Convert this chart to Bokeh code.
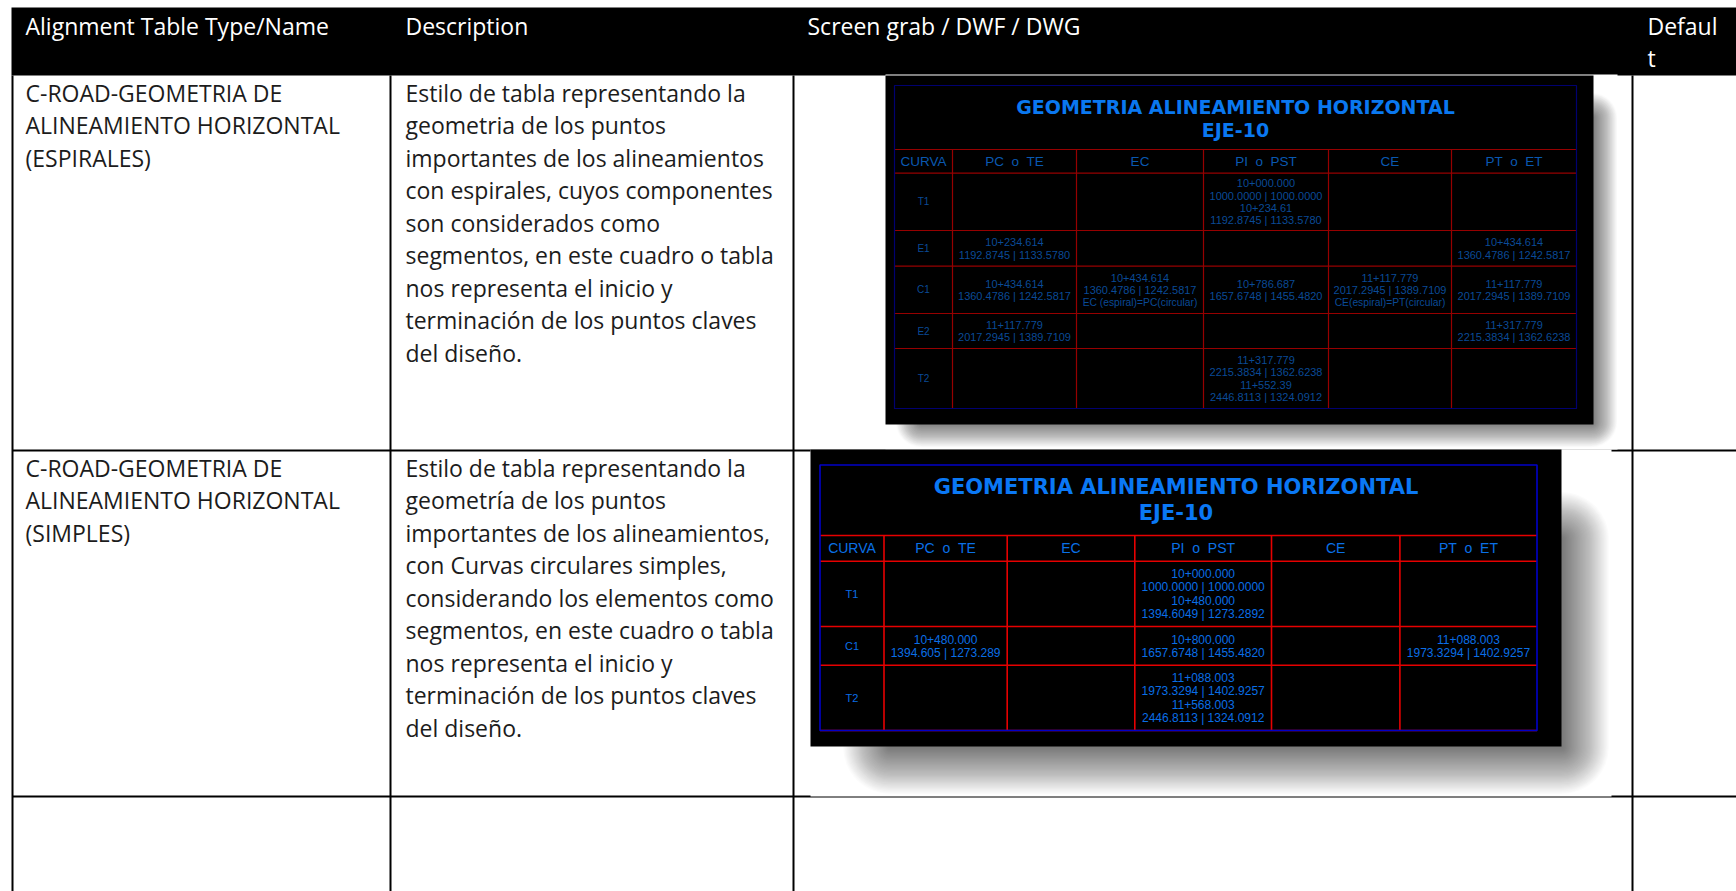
from bokeh.plotting import figure
from bokeh.models import Range1d
from bokeh.core.properties import value
from bokeh.embed import file_html
from bokeh.resources import INLINE

# ---- table content ----
headers = ["Alignment Table Type/Name", "Description", "Screen grab / DWF / DWG", "Defaul", "t"]
name_1 = ["C-ROAD-GEOMETRIA DE", "ALINEAMIENTO HORIZONTAL", "(ESPIRALES)"]
name_2 = ["C-ROAD-GEOMETRIA DE", "ALINEAMIENTO HORIZONTAL", "(SIMPLES)"]
desc_1 = ["Estilo de tabla representando la", "geometria de los puntos", "importantes de los alineamientos",
          "con espirales, cuyos componentes", "son considerados como", "segmentos, en este cuadro o tabla",
          "nos representa el inicio y", "terminación de los puntos claves", "del diseño."]
desc_2 = ["Estilo de tabla representando la", "geometría de los puntos", "importantes de los alineamientos,",
          "con Curvas circulares simples,", "considerando los elementos como", "segmentos, en este cuadro o tabla",
          "nos representa el inicio y", "terminación de los puntos claves", "del diseño."]

title_lines = ["GEOMETRIA ALINEAMIENTO HORIZONTAL", "EJE-10"]
sheet_cols = ["CURVA", "PC\u00a0\u00a0o\u00a0\u00a0TE", "EC", "PI\u00a0\u00a0o\u00a0\u00a0PST", "CE", "PT\u00a0\u00a0o\u00a0\u00a0ET"]

s1_curva = ["T1", "E1", "C1", "E2", "T2"]
s1_pc = [[], ["10+234.614", "1192.8745 | 1133.5780"], ["10+434.614", "1360.4786 | 1242.5817"],
         ["11+117.779", "2017.2945 | 1389.7109"], []]
s1_ec = [[], [], ["10+434.614", "1360.4786 | 1242.5817", "EC (espiral)=PC(circular)"], [], []]
s1_pi = [["10+000.000", "1000.0000 | 1000.0000", "10+234.61", "1192.8745 | 1133.5780"], [],
         ["10+786.687", "1657.6748 | 1455.4820"], [],
         ["11+317.779", "2215.3834 | 1362.6238", "11+552.39", "2446.8113 | 1324.0912"]]
s1_ce = [[], [], ["11+117.779", "2017.2945 | 1389.7109", "CE(espiral)=PT(circular)"], [], []]
s1_pt = [[], ["10+434.614", "1360.4786 | 1242.5817"], ["11+117.779", "2017.2945 | 1389.7109"],
         ["11+317.779", "2215.3834 | 1362.6238"], []]

s2_curva = ["T1", "C1", "T2"]
s2_pc = [[], ["10+480.000", "1394.605 | 1273.289"], []]
s2_ec = [[], [], []]
s2_pi = [["10+000.000", "1000.0000 | 1000.0000", "10+480.000", "1394.6049 | 1273.2892"],
         ["10+800.000", "1657.6748 | 1455.4820"],
         ["11+088.003", "1973.3294 | 1402.9257", "11+568.003", "2446.8113 | 1324.0912"]]
s2_ce = [[], [], []]
s2_pt = [[], ["11+088.003", "1973.3294 | 1402.9257"], []]

# ---- page-pixel canvas ----
W, H = 1736, 891
p = figure(width=W, height=H, x_range=Range1d(0, W), y_range=Range1d(H, 0),
           output_backend="svg", toolbar_location=None, min_border=0,
           x_axis_type=None, y_axis_type=None, background_fill_color="white",
           border_fill_color="white", outline_line_color=None)
p.xgrid.visible = False
p.ygrid.visible = False

BODY = value("Open Sans")
DOC_SIZE = "23px"
LEAD = 32.5


def rect(l, r, t, b, color="black", alpha=1.0, radius=0):
    p.quad(left=[l], right=[r], top=[t], bottom=[b], fill_color=color, fill_alpha=alpha,
           line_color=None, border_radius=int(radius))


def lines(x, y0, items, color="#1c1c1c"):
    p.text(x=[x] * len(items), y=[y0 + LEAD * i for i in range(len(items))], text=items,
           text_font=BODY, text_font_size=DOC_SIZE, text_color=color,
           text_baseline="alphabetic", text_align="left")


# Outer table rules
V = [12, 390, 793, 1632]
HZ = [450, 796]
p.segment(x0=V, x1=V, y0=[75] * 4, y1=[900] * 4, line_color="black", line_width=2)
p.segment(x0=[12] * 2, x1=[1740] * 2, y0=HZ, y1=HZ, line_color="black", line_width=2)

# Header band
rect(11, 1740, 7, 75)


def shadow(l, r, t, b, spread, strength, layers=40):
    a = 1 - (1 - strength) ** (1 / layers)
    for i in range(layers):
        d = spread * (1 - 2 * (i + 0.5) / layers)
        rect(l - d, r + d, t - d, b + d, "black", a, radius=max(0.0, d + spread))


def sheet(img, frame, xs, ys, rows, cols, cell_h, st):
    il, ir, it, ib = img
    fl, fr, ft, fb = frame
    rect(il, ir, it, ib)
    # title
    cx = (fl + fr) / 2 + st["title_dx"]
    p.text(x=[cx, cx], y=st["title_y"], text=title_lines, text_font=value("DejaVu Sans"),
           text_font_style="bold", text_font_size=st["title_size"], text_color=st["title_color"],
           text_align="center", text_baseline="middle")
    # grid
    p.segment(x0=[fl] * len(ys), x1=[fr] * len(ys), y0=ys, y1=ys, line_color=st["red"], line_width=st["lw"])
    vx = xs[1:-1]
    p.segment(x0=vx, x1=vx, y0=[ys[0]] * len(vx), y1=[fb] * len(vx), line_color=st["red"], line_width=st["lw"])
    p.quad(left=[fl], right=[fr], top=[ft], bottom=[fb], fill_color=None, line_color=st["blue"], line_width=st["lw"])
    # column captions
    mid = [(a + b) / 2 for a, b in zip(xs[:-1], xs[1:])]
    p.text(x=mid, y=[(ys[0] + ys[1]) / 2] * 6, text=sheet_cols, text_font=value("Liberation Sans"),
           text_font_size=st["head_size"], text_color=st["head_color"],
           text_align="center", text_baseline="middle")
    # cells
    for c, col in enumerate(cols):
        for r, cell in enumerate(col):
            yc = (ys[r + 1] + ys[r + 2]) / 2
            n = len(cell)
            for k, t in enumerate(cell):
                size = "10.3px" if "espiral" in t else st["cell_size"]
                p.text(x=[mid[c + 1]], y=[yc + (k - (n - 1) / 2) * cell_h], text=[t],
                       text_font=value("Liberation Sans"), text_font_size=size,
                       text_color=st["cell_color"], text_align="center", text_baseline="middle")
    ycs = [(ys[r + 1] + ys[r + 2]) / 2 for r in range(len(rows))]
    p.text(x=[mid[0]] * len(rows), y=ycs, text=rows, text_font=value("Liberation Sans"),
           text_font_size=st["curva_size"], text_color=st["cell_color"],
           text_align="center", text_baseline="middle")


# White image grounds hide the table rules, then drop shadows, then the sheets
rect(885, 1617, 74, 449, "white")
rect(810, 1611, 449, 796, "white")
shadow(908, 1604, 105, 434, 13, 0.48)
shadow(866, 1585, 515, 770, 24, 0.46)

sheet((885, 1593, 75, 424), (894, 1576, 85, 408),
      [894, 952, 1076, 1203, 1328, 1451, 1576], [149, 172.7, 230, 265.7, 313, 348, 408],
      s1_curva, [s1_pc, s1_ec, s1_pi, s1_ce, s1_pt], 12.3,
      dict(title_dx=0, title_y=[106, 129.3], title_size="19px", title_color="#0a78f0", red="#960000",
           blue="#000070", lw=1.2, head_size="13.5px", head_color="#0a58b0", cell_size="11px",
           cell_color="#0a4a96", curva_size="10px"))

sheet((810, 1561, 449, 746), (819.5, 1536.5, 464.5, 730),
      [819.5, 883.5, 1006.7, 1134.3, 1271, 1399.4, 1536.5], [535, 560.7, 626, 664.7, 730],
      s2_curva, [s2_pc, s2_ec, s2_pi, s2_ce, s2_pt], 13.4,
      dict(title_dx=-2.5, title_y=[486.7, 512.7], title_size="21px", title_color="#0a78f5", red="#e60000",
           blue="#0000c8", lw=1.6, head_size="14px", head_color="#0a70e6", cell_size="12px",
           cell_color="#0a6ee6", curva_size="11px"))

# Header and body text (Bokeh's alphabetic anchor sits about 8px above the drawn baseline here)
for x, y, t in zip([25, 405, 807, 1647, 1647], [25, 25, 25, 25, 57], headers):
    lines(x, y, [t], color="white")
lines(25, 92, name_1)
lines(405, 92, desc_1)
lines(25, 467, name_2)
lines(405, 467, desc_2)

open("out.html", "w").write(file_html(p, INLINE))
